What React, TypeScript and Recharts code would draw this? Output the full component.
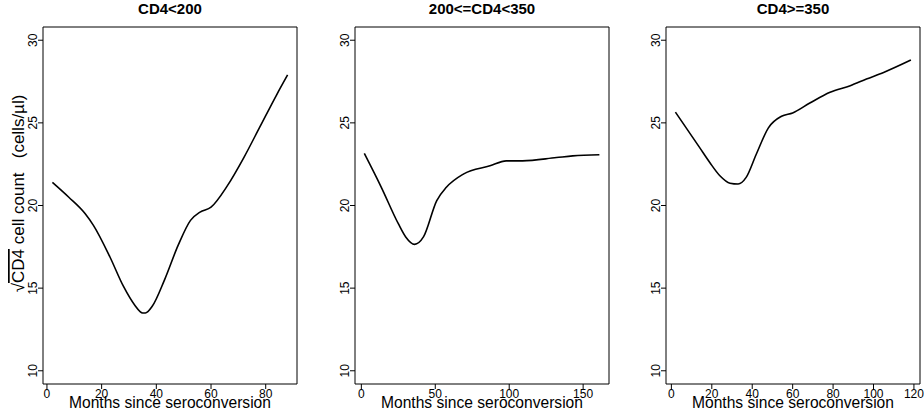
import React from "react";
import { LineChart, Line, XAxis, YAxis, ReferenceArea } from "recharts";

// Smoothed sqrt(CD4) trajectories by baseline CD4 group
const monthsLow = [2, 8, 14, 17, 23, 28, 32, 35, 36, 38.5, 43, 48, 52.5, 56, 60, 66, 72, 78, 84, 88];
const cd4Low = [21.4, 20.5, 19.5, 18.8, 16.9, 15.1, 14.0, 13.5, 13.5, 13.9, 15.5, 17.6, 19.1, 19.6, 19.9, 21.2, 22.9, 24.8, 26.7, 27.9];

const monthsMid = [2, 13.5, 25, 30, 36, 42, 51, 57.5, 69, 87, 98, 109, 132, 143, 161];
const cd4Mid = [23.15, 21.1, 18.9, 18.1, 17.65, 18.1, 20.3, 21.1, 21.9, 22.4, 22.7, 22.7, 22.9, 23.0, 23.07];

const monthsHigh = [2, 14, 19, 24, 29, 33, 37, 42, 48, 54.5, 60, 68.5, 78.5, 88.5, 96.5, 105, 118.5];
const cd4High = [25.65, 23.5, 22.6, 21.8, 21.35, 21.3, 21.7, 23.1, 24.7, 25.4, 25.6, 26.2, 26.85, 27.25, 27.65, 28.05, 28.8];

const yTicks = [10, 15, 20, 25, 30];
const xTicksLow = [0, 20, 40, 60, 80];
const xTicksMid = [0, 50, 100, 150];
const xTicksHigh = [0, 20, 40, 60, 80, 100, 120];

const FONT = "'Liberation Sans', Arial, Helvetica, sans-serif";
const Y_DOMAIN: [number, number] = [9.2, 30.8];

const zip = (xs: number[], ys: number[]) => xs.map((m, i) => ({ month: m, cd4: ys[i] }));

const panels = [
  { title: "CD4<200", data: zip(monthsLow, cd4Low), ticks: xTicksLow, domain: [-1.44, 91.44] as [number, number], left: 0, yWidth: 43, right: 4, yTitle: true },
  { title: "200<=CD4<350", data: zip(monthsMid, cd4Mid), ticks: xTicksMid, domain: [-4.3, 167.5] as [number, number], left: 310, yWidth: 45, right: 1, yTitle: false },
  { title: "CD4>=350", data: zip(monthsHigh, cd4High), ticks: xTicksHigh, domain: [-2.66, 123.0] as [number, number], left: 620, yWidth: 46, right: 4, yTitle: false },
];

const PLOT_W = 254;

// R-style vertical tick labels on the y axis
const VerticalTick = (props: any) => {
  const { x, y, payload } = props;
  return (
    <text x={x} y={y} transform={`rotate(-90 ${x} ${y})`} textAnchor="middle" fontSize={12} fontFamily={FONT} fill="#000">
      {payload.value}
    </text>
  );
};

const YTitle = (props: any) => {
  const vb = props.viewBox || {};
  const cx = vb.x + 24;
  const cy = vb.y + vb.height / 2 - 12;
  return (
    <text x={cx} y={cy} transform={`rotate(-90 ${cx} ${cy})`} textAnchor="middle" fontSize={17} fontFamily={FONT} fill="#000" style={{ whiteSpace: "pre" }}>
      <tspan>√</tspan>
      <tspan textDecoration="overline">CD4</tspan>
      <tspan>{" cell count   (cells/µl)"}</tspan>
    </text>
  );
};

const XTitle = (props: any) => {
  const vb = props.viewBox || {};
  return (
    <text x={vb.x + vb.width / 2} y={vb.y + 24} textAnchor="middle" fontSize={15.6} fontFamily={FONT} fill="#000">
      Months since seroconversion
    </text>
  );
};

export default function App() {
  return (
    <div style={{ position: "absolute", left: 0, top: 0, width: 924, height: 420, background: "#fff", fontFamily: FONT }}>
      {panels.map((p) => (
        <div key={p.title} style={{ position: "absolute", left: p.left, top: 0 }}>
          <div
            style={{
              position: "absolute",
              left: p.yWidth,
              top: 0,
              width: PLOT_W,
              textAlign: "center",
              fontWeight: "bold",
              fontSize: 15,
              lineHeight: "18px",
              color: "#000",
            }}
          >
            {p.title}
          </div>
          <LineChart width={p.yWidth + PLOT_W + p.right} height={420} data={p.data} margin={{ top: 27, right: p.right, bottom: 0, left: 0 }}>
            <XAxis
              dataKey="month"
              type="number"
              domain={p.domain}
              ticks={p.ticks}
              allowDataOverflow
              height={36}
              axisLine={false}
              tickLine={{ stroke: "#000" }}
              tickSize={5}
              tickMargin={0}
              tick={{ fontSize: 12, fill: "#000", fontFamily: FONT }}
              interval={0}
              label={{ content: XTitle }}
            />
            <YAxis
              type="number"
              domain={Y_DOMAIN}
              ticks={yTicks}
              allowDataOverflow
              width={p.yWidth}
              axisLine={false}
              tickLine={{ stroke: "#000" }}
              tickSize={5}
              tickMargin={1}
              tick={<VerticalTick />}
              interval={0}
              label={p.yTitle ? { content: YTitle } : undefined}
            />
            <ReferenceArea
              x1={p.domain[0]}
              x2={p.domain[1]}
              y1={Y_DOMAIN[0]}
              y2={Y_DOMAIN[1]}
              fill="none"
              fillOpacity={0}
              stroke="#000"
              strokeWidth={1}
              ifOverflow="visible"
            />
            <Line type="monotone" dataKey="cd4" stroke="#000" strokeWidth={1.6} dot={false} isAnimationActive={false} />
          </LineChart>
        </div>
      ))}
    </div>
  );
}
